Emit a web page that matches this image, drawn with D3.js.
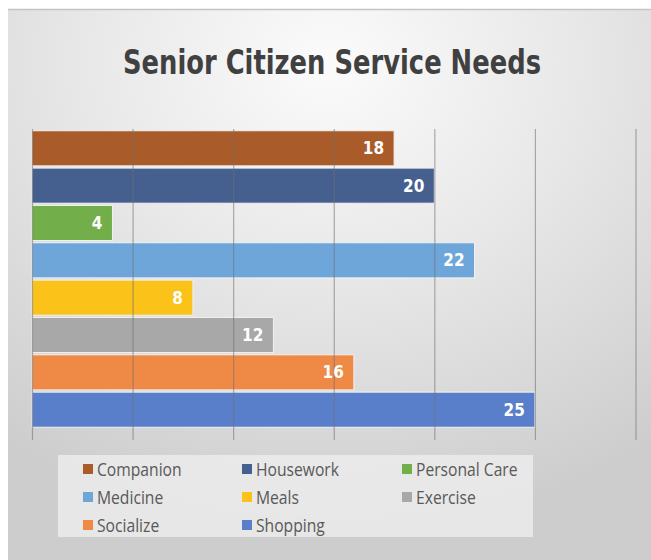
<!DOCTYPE html>
<html>
<head>
<meta charset="utf-8">
<script src="https://cdn.jsdelivr.net/npm/d3@7"></script>
<style>
  body { margin: 0; background: #fff; }
  svg { display: block; }
</style>
</head>
<body>
<script>
// Data
// =================================
var categories = ["Companion", "Housework", "Personal Care", "Medicine", "Meals", "Exercise", "Socialize", "Shopping"];
var values = [18, 20, 4, 22, 8, 12, 16, 25];
var colors = ["#A95C2A", "#45608F", "#72AE4A", "#6FA6DA", "#FBC21A", "#A8A8A8", "#EE8A46", "#5A7FCA"];
var ticks = [0, 5, 10, 15, 20, 25, 30];

// Setup
// =================================
var svgWidth = 651;
var svgHeight = 560;
var margin = { top: 130, right: 16, bottom: 132, left: 32 };
var width = 635.5 - margin.left;
var height = 428 - margin.top;

var svg = d3.select("body").append("svg")
  .attr("width", svgWidth)
  .attr("height", svgHeight);

// background gradient
var defs = svg.append("defs");
var grad = defs.append("radialGradient")
  .attr("id", "bg")
  .attr("cx", "50%").attr("cy", "10%").attr("r", "85%");
grad.append("stop").attr("offset", "0%").attr("stop-color", "#fbfbfb");
grad.append("stop").attr("offset", "45%").attr("stop-color", "#e8e8e8");
grad.append("stop").attr("offset", "100%").attr("stop-color", "#cdcdcd");

svg.append("rect")
  .attr("x", 8).attr("y", 9)
  .attr("width", svgWidth - 8).attr("height", svgHeight - 9)
  .attr("fill", "url(#bg)");
svg.append("line")
  .attr("x1", 8).attr("x2", svgWidth).attr("y1", 9.5).attr("y2", 9.5)
  .attr("stroke", "#c4c4c4").attr("stroke-width", 1.5);

// title
svg.append("text")
  .attr("x", 332)
  .attr("y", 74)
  .attr("text-anchor", "middle")
  .attr("font-family", "'DejaVu Sans Condensed', 'Liberation Sans Narrow', sans-serif")
  .attr("font-size", "33px")
  .attr("font-weight", "bold")
  .attr("fill", "#404040")
  .attr("textLength", 418)
  .attr("lengthAdjust", "spacingAndGlyphs")
  .text("Senior Citizen Service Needs");

var chartGroup = svg.append("g")
  .attr("transform", `translate(${margin.left}, ${margin.top})`);

// Scales
// =================================
var xScale = d3.scaleLinear().domain([0, 30]).range([0, width]);
var yScale = d3.scaleBand().domain(categories).range([0, height]).paddingInner(0.06).paddingOuter(0.02);

// Bars
// =================================
chartGroup.selectAll("rect.bar")
  .data(categories)
  .enter()
  .append("rect")
  .attr("class", "bar")
  .attr("x", 0)
  .attr("y", d => yScale(d))
  .attr("width", (d, i) => xScale(values[i]))
  .attr("height", yScale.bandwidth())
  .attr("fill", (d, i) => colors[i])
  .attr("stroke", "#f2f2f2")
  .attr("stroke-width", 1);

// Gridlines + ticks via axis
// =================================
var gridAxis = d3.axisBottom(xScale)
  .tickValues(ticks)
  .tickSize(-(height + 13))
  .tickFormat("");

chartGroup.append("g")
  .attr("transform", `translate(0, ${height + 12})`)
  .call(gridAxis)
  .call(g => g.select(".domain").remove())
  .call(g => g.selectAll(".tick line").attr("stroke", "#6f6f6f").attr("stroke-opacity", 0.55).attr("stroke-width", 1.2));

// Value labels
// =================================
chartGroup.append("g")
  .selectAll("text")
  .data(categories)
  .enter()
  .append("text")
  .attr("x", (d, i) => xScale(values[i]) - 10)
  .attr("y", d => yScale(d) + yScale.bandwidth() / 2)
  .attr("text-anchor", "end")
  .attr("dominant-baseline", "central")
  .attr("font-family", "'DejaVu Sans Condensed', 'Liberation Sans Narrow', sans-serif")
  .attr("font-size", "17px")
  .attr("font-weight", "bold")
  .attr("fill", "#ffffff")
  .text((d, i) => values[i]);

// Legend
// =================================
svg.append("rect")
  .attr("x", 58).attr("y", 455)
  .attr("width", 475).attr("height", 82)
  .attr("fill", "#eeeeee")
  .attr("fill-opacity", 0.8);

var legendCols = [83, 242, 402];
var legendRows = [469, 497, 525];

var legend = svg.append("g")
  .selectAll("g")
  .data(categories)
  .enter()
  .append("g")
  .attr("transform", (d, i) => `translate(${legendCols[i % 3]}, ${legendRows[Math.floor(i / 3)]})`);

legend.append("rect")
  .attr("x", 0).attr("y", -5)
  .attr("width", 10).attr("height", 10)
  .attr("fill", (d, i) => colors[i]);

legend.append("text")
  .attr("transform", "translate(14, 0) scale(0.87, 1)")
  .attr("dominant-baseline", "central")
  .attr("font-family", "'Open Sans', 'DejaVu Sans', sans-serif")
  .attr("font-size", "18px")
  .attr("fill", "#595959")
  .text(d => d);
</script>
</body>
</html>
